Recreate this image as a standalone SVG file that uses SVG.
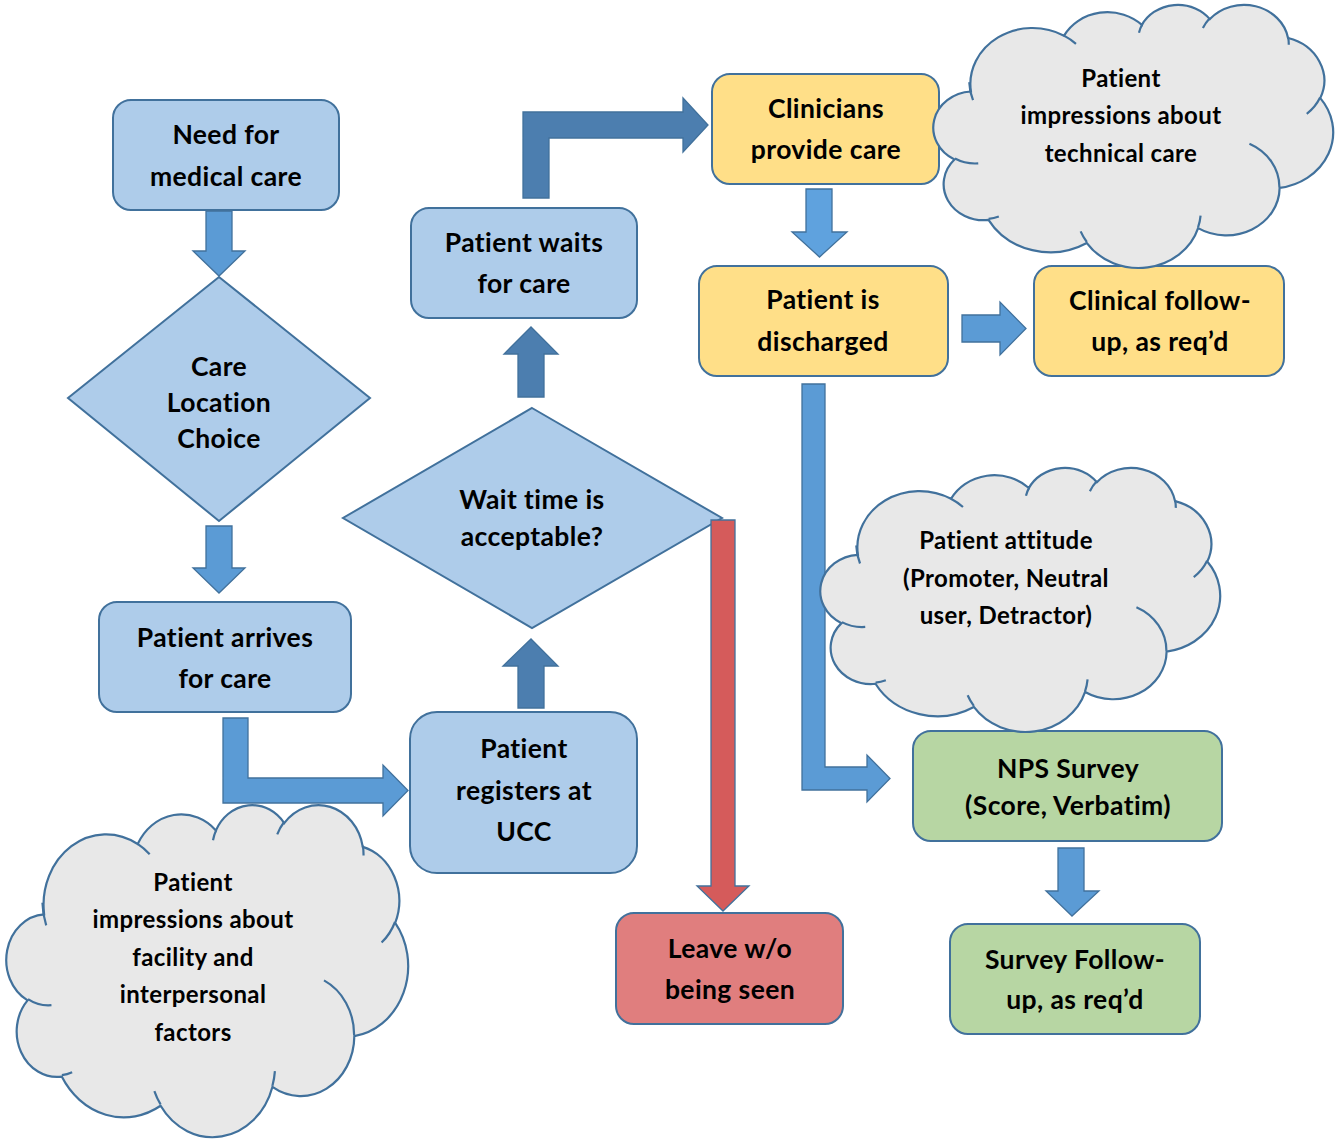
<svg xmlns="http://www.w3.org/2000/svg" xmlns:xlink="http://www.w3.org/1999/xlink" width="1336" height="1139" viewBox="0 0 1336 1139">
<style>
  .t { font-family: "Lato", "Liberation Sans", sans-serif; font-weight: 700; font-size: 26.5px; letter-spacing: 0.4px; fill: #000; text-anchor: middle; }
  .tc { font-family: "Lato", "Liberation Sans", sans-serif; font-weight: 700; font-size: 24px; letter-spacing: 0.4px; fill: #000; text-anchor: middle; }
  .blue { fill: #AECCEA; stroke: #41719C; stroke-width: 2; }
  .yellow { fill: #FFDF88; stroke: #41719C; stroke-width: 2; }
  .green { fill: #B7D6A3; stroke: #41719C; stroke-width: 2; }
  .red { fill: #E07E7E; stroke: #41719C; stroke-width: 2; }
  .arr { fill: #5B9BD5; stroke: #41719C; stroke-width: 1.3; stroke-linejoin: miter; }
  .arrd { fill: #4C7EAF; stroke: #41719C; stroke-width: 1.3; }
  .arrl { fill: #5FA2DE; stroke: #41719C; stroke-width: 1.3; }
  .arrr { fill: #D55B5B; stroke: #41719C; stroke-width: 1.3; }
  .cloud { fill: #E8E8E8; stroke: #41719C; stroke-width: 2.2; vector-effect: non-scaling-stroke; }
  .cloudin { fill: none; stroke: #41719C; stroke-width: 2.2; vector-effect: non-scaling-stroke; }
</style>
<defs>
  <g id="cloudShape">
    <path class="cloud" d="M3900,14370 A6753,9190 0 0 1 14005,5202 A5333,7267 0 0 1 22457,3434 A4365,5945 0 0 1 29834,2483 A4857,6595 0 0 1 38319,5578 A5333,7273 0 0 1 41820,15462 A6775,9220 0 0 1 37405,30204 A5785,7867 0 0 1 28557,36814 A6752,9215 0 0 1 16482,39267 A7720,10543 0 0 1 5806,35473 A4360,5918 0 0 1 2114,25552 A4345,5945 0 0 1 3900,14370 Z"/>
    <path class="cloudin" d="M4693,26177 A4345,5945 0 0 1 2160,25380 M6928,34899 A4360,5918 0 0 1 5820,35280 M16478,39090 A6752,9215 0 0 1 15809,37348 M28827,34751 A6752,9215 0 0 1 28560,36660 M34129,22954 A5785,7867 0 0 1 37380,30090 M41798,15354 A5333,7273 0 0 1 40350,18030 M38324,5426 A4857,6595 0 0 1 38400,6690 M29078,3952 A4857,6595 0 0 1 29820,2339 M22141,4720 A4365,5945 0 0 1 22500,3330 M14000,5192 A6753,9190 0 0 1 15301,6541 M4127,15789 A6753,9190 0 0 1 3719,12849"/>
  </g>
</defs>
<rect width="1336" height="1139" fill="#FFFFFF"/>

<g id="need-care">
  <rect class="blue" x="113" y="100" width="226" height="110" rx="18"/>
  <text class="t" x="226" y="144">Need for</text>
  <text class="t" x="226" y="186">medical care</text>
</g>
<g id="care-location">
  <polygon class="blue" points="219,277 370,398 219,521 68,398"/>
  <text class="t" x="219" y="376">Care</text>
  <text class="t" x="219" y="412">Location</text>
  <text class="t" x="219" y="448">Choice</text>
</g>
<g id="patient-arrives">
  <rect class="blue" x="99" y="602" width="252" height="110" rx="18"/>
  <text class="t" x="225" y="647">Patient arrives</text>
  <text class="t" x="225" y="688">for care</text>
</g>
<g id="patient-registers">
  <rect class="blue" x="410" y="712" width="227" height="161" rx="27"/>
  <text class="t" x="524" y="758">Patient</text>
  <text class="t" x="524" y="800">registers at</text>
  <text class="t" x="524" y="841">UCC</text>
</g>
<g id="wait-acceptable">
  <polygon class="blue" points="532,408 722,518 532,628 343,518"/>
  <text class="t" x="532" y="509">Wait time is</text>
  <text class="t" x="532" y="546">acceptable?</text>
</g>
<g id="patient-waits">
  <rect class="blue" x="411" y="208" width="226" height="110" rx="18"/>
  <text class="t" x="524" y="252">Patient waits</text>
  <text class="t" x="524" y="293">for care</text>
</g>
<g id="clinicians">
  <rect class="yellow" x="712" y="74" width="227" height="110" rx="18"/>
  <text class="t" x="826" y="118">Clinicians</text>
  <text class="t" x="826" y="159">provide care</text>
</g>
<g id="discharged">
  <rect class="yellow" x="699" y="266" width="249" height="110" rx="18"/>
  <text class="t" x="823" y="309">Patient is</text>
  <text class="t" x="823" y="351">discharged</text>
</g>
<g id="clinical-followup">
  <rect class="yellow" x="1034" y="266" width="250" height="110" rx="18"/>
  <text class="t" x="1160" y="310">Clinical follow-</text>
  <text class="t" x="1160" y="351">up, as req’d</text>
</g>
<g id="nps-survey">
  <rect class="green" x="913" y="731" width="309" height="110" rx="18"/>
  <text class="t" x="1068" y="778">NPS Survey</text>
  <text class="t" x="1068" y="815">(Score, Verbatim)</text>
</g>
<g id="survey-followup">
  <rect class="green" x="950" y="924" width="250" height="110" rx="18"/>
  <text class="t" x="1075" y="969">Survey Follow-</text>
  <text class="t" x="1075" y="1009">up, as req’d</text>
</g>
<g id="leave">
  <rect class="red" x="616" y="913" width="227" height="111" rx="18"/>
  <text class="t" x="730" y="958">Leave w/o</text>
  <text class="t" x="730" y="999">being seen</text>
</g>

<g id="connectors">
  <path class="arr" d="M206,211 H232 V251 H245 L219,276 L193,251 H206 Z"/>
  <path class="arr" d="M206,526 H232 V568 H245 L219,593 L193,568 H206 Z"/>
  <path class="arr" d="M223,718 H248 V778 H383 V765 L408,790.5 L383,816 V803 H223 Z"/>
  <path class="arrd" d="M518,708 V666 H503 L531,639 L558,666 H544 V708 Z"/>
  <path class="arrd" d="M518,397 V354 H504 L531,327 L558,354 H544 V397 Z"/>
  <path class="arrd" d="M523,198 V112 H683 V98 L708,125 L683,152 V138 H549 V198 Z"/>
  <path class="arrl" d="M806,189 H832 V232 H847 L819.5,257 L792,232 H806 Z"/>
  <path class="arr" d="M962,315 H1000 V302 L1026,328.5 L1000,355 V342 H962 Z"/>
  <path class="arr" d="M802,384 H825 V767 H867 V755 L890,778.5 L867,802 V790 H802 Z"/>
  <path class="arr" d="M1058,848 H1084 V891 H1099 L1072,916 L1046,891 H1058 Z"/>
  <path class="arrr" d="M711,520 H735 V886 H749 L723,911 L697,886 H711 Z"/>
</g>

<g id="cloud-technical">
  <use xlink:href="#cloudShape" transform="translate(935,4) scale(0.009213,0.006088)"/>
  <text class="tc" x="1121" y="87">Patient</text>
  <text class="tc" x="1121" y="124">impressions about</text>
  <text class="tc" x="1121" y="162">technical care</text>
</g>
<g id="cloud-facility">
  <use xlink:href="#cloudShape" transform="translate(8,804) scale(0.009259,0.007685)"/>
  <text class="tc" x="193" y="891">Patient</text>
  <text class="tc" x="193" y="928">impressions about</text>
  <text class="tc" x="193" y="966">facility and</text>
  <text class="tc" x="193" y="1003">interpersonal</text>
  <text class="tc" x="193" y="1041">factors</text>
</g>
<g id="cloud-attitude">
  <use xlink:href="#cloudShape" transform="translate(822,467) scale(0.009213,0.006111)"/>
  <text class="tc" x="1006" y="549">Patient attitude</text>
  <text class="tc" x="1006" y="587">(Promoter, Neutral</text>
  <text class="tc" x="1006" y="624">user, Detractor)</text>
</g>
</svg>
